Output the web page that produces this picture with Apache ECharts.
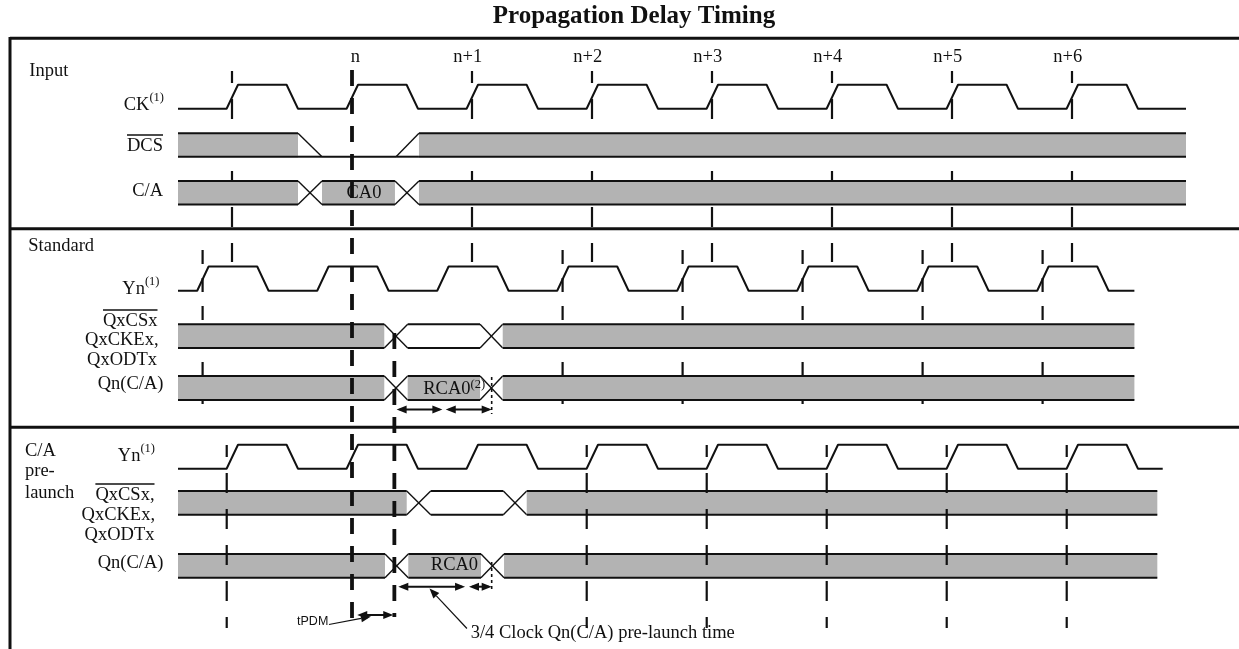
<!DOCTYPE html>
<html><head><meta charset="utf-8">
<script src="https://cdn.jsdelivr.net/npm/echarts@6/dist/echarts.min.js"></script>
<style>html,body{margin:0;padding:0;background:#fff}#chart{width:1239px;height:649px}</style>
</head><body><div id="chart"></div>
<script>
// ===== DATA (time in clock periods, 0 = rising edge "n") =====
const clockLabels = ['n', 'n+1', 'n+2', 'n+3', 'n+4', 'n+5', 'n+6'];
const clockLabelAt = [0.028, 0.964, 1.964, 2.964, 3.964, 4.964, 5.964];
const ckRise = [-1, 0, 1, 2, 3, 4, 5, 6];
const ckSpan = [-1.45, 6.95];
const ynStdRise = [-1.245, -0.245, 0.755, 1.755, 2.755, 3.755, 4.755, 5.755];
const ynStdSpan = [-1.45, 6.52];
const ynPreRise = [-1, 0, 1, 2, 3, 4, 5, 6];
const ynPreSpan = [-1.45, 6.756];
const clockShape = [-0.045, 0.05, 0.455, 0.55]; // rise start, rise end, fall start, fall end (rel. to edge)
const dcsSegs   = [[-1.45, -0.45, 'valid'], [-0.25, 0.367, 'low'], [0.558, 6.95, 'valid']];
const caSegs    = [[-1.45, -0.45, 'valid'], [-0.25, 0.358, 'valid'], [0.558, 6.95, 'valid']];
const stdCsSegs = [[-1.45, 0.269, 'valid'], [0.464, 1.067, 'open'], [1.256, 6.52, 'valid']];
const stdQnSegs = [[-1.45, 0.269, 'valid'], [0.464, 1.067, 'valid'], [1.256, 6.52, 'valid']];
const preCsSegs = [[-1.45, 0.456, 'valid'], [0.656, 1.261, 'open'], [1.456, 6.711, 'valid']];
const preQnSegs = [[-1.45, 0.275, 'valid'], [0.469, 1.075, 'valid'], [1.267, 6.711, 'valid']];
const busLabels = ['CA0', 'RCA0', 'RCA0'];
const busLabelAt = [0.1, 0.594, 0.854];
const stdArrows = [[0.372, 0.753], [0.781, 1.164]];
const preArrows = [[0.386, 0.942], [0.975, 1.164]];
const tpdmArrow = [0.044, 0.344];
const inputGuides = [-1, 1, 2, 3, 4, 5, 6];
const stdGuides = [-1.245, 1.755, 2.755, 3.755, 4.755, 5.755];
const preGuides = [-1.044, 1.956, 2.956, 3.956, 4.956, 5.956];
const referenceEdges = [0, 0.353];
const markerAt = 1.164;

// ===== LAYOUT (pixels) =====
const L = {
  W: 1239, H: 649, px0: 352, pxPerClk: 120,
  ck: {hi: 84.7, lo: 108.7}, dcs: {top: 133.3, bot: 156.7}, ca: {top: 181, bot: 204.5},
  stdYn: {hi: 266.5, lo: 290.7}, stdCs: {top: 324.3, bot: 348}, stdQn: {top: 376, bot: 400},
  preYn: {hi: 444.7, lo: 468.7}, preCs: {top: 491, bot: 514.7}, preQn: {top: 554, bot: 577.7},
  stdArrowY: 409.5, preArrowY: 586.7, tpdmY: 615,
  inGuide: [71, 262], stdGuide: [250, 418], preGuide: [445, 628],
  refGuide: [[70, 620], [333, 617]],
  stdMarker: [377, 414], preMarker: [562, 592],
  clkLabelY: 57, busLabelY: [192.7, 389, 565],
};
const INK = '#111', GRAY = '#b3b3b3';
const SERIF = '"Liberation Serif","Times New Roman",serif';
const SANS = '"Liberation Sans",Arial,sans-serif';
const F = (s, w) => (w || 'normal') + ' ' + s + 'px ' + SERIF;
const mctx = document.createElement('canvas').getContext('2d');
function tw(text, font) { mctx.font = font; return mctx.measureText(text).width; }

function clockPoints(rises, span, lv) {
  const pts = [[span[0], lv.lo]];
  rises.forEach(e => {
    pts.push([e + clockShape[0], lv.lo], [e + clockShape[1], lv.hi], [e + clockShape[2], lv.hi], [e + clockShape[3], lv.lo]);
  });
  pts.push([span[1], lv.lo]);
  return pts;
}

const busRows = [
  {segs: dcsSegs, lay: L.dcs},
  {segs: caSegs, lay: L.ca, label: 0, align: 'center'},
  {segs: stdCsSegs, lay: L.stdCs},
  {segs: stdQnSegs, lay: L.stdQn, label: 1, align: 'left', sup: '(2)'},
  {segs: preCsSegs, lay: L.preCs},
  {segs: preQnSegs, lay: L.preQn, label: 2, align: 'center'},
];

const ln = (x1, y1, x2, y2, w, extra) => ({type: 'line', shape: {x1, y1, x2, y2},
  style: Object.assign({stroke: INK, lineWidth: w || 2, lineCap: 'butt'}, extra || {})});

function renderBus(params, api) {
  const row = busRows[params.dataIndex];
  const yt = api.coord([0, row.lay.top])[1], yb = api.coord([0, row.lay.bot])[1];
  const X = t => api.coord([t, 0])[0];
  const ch = [];
  row.segs.forEach((s, i) => {
    const x0 = X(s[0]), x1 = X(s[1]);
    if (s[2] === 'valid') ch.push({type: 'rect', shape: {x: x0, y: yt, width: x1 - x0, height: yb - yt}, style: {fill: GRAY}});
    if (s[2] !== 'low') ch.push(ln(x0, yt, x1, yt));
    ch.push(ln(x0, yb, x1, yb));
    const n = row.segs[i + 1];
    if (n) {
      const xa = x1, xb = X(n[0]);
      if (n[2] === 'low') { ch.push(ln(xa, yt, xb, yb, 1.4)); ch.push(ln(xa, yb, xb, yb)); }
      else if (s[2] === 'low') { ch.push(ln(xa, yb, xb, yt, 1.4)); ch.push(ln(xa, yb, xb, yb)); }
      else { ch.push(ln(xa, yt, xb, yb, 1.4)); ch.push(ln(xa, yb, xb, yt, 1.4)); }
    }
  });
  if (row.label !== undefined) {
    const p = api.coord([busLabelAt[row.label], L.busLabelY[row.label]]);
    const font = F(18.5);
    ch.push({type: 'text', style: {text: busLabels[row.label], x: p[0], y: p[1], font, fill: INK,
      textAlign: row.align, textVerticalAlign: 'middle', align: row.align, verticalAlign: 'middle'}});
    if (row.sup) {
      const w = tw(busLabels[row.label], font);
      ch.push({type: 'text', style: {text: row.sup, x: p[0] + w, y: p[1] - 4, font: F(12.5), fill: INK,
        textAlign: 'left', textVerticalAlign: 'middle', align: 'left', verticalAlign: 'middle'}});
    }
  }
  return {type: 'group', children: ch};
}

function renderGuide(dash, width, offset) {
  return function (params, api) {
    const a = api.coord([api.value(0), api.value(1)]), b = api.coord([api.value(0), api.value(2)]);
    return ln(a[0], a[1], b[0], b[1], width, {lineDash: dash, lineDashOffset: offset || 0});
  };
}

function arrowShape(x0, x1, y) {
  const h = 10, w = 4;
  return [
    ln(x0 + 3, y, x1 - 3, y, 2),
    {type: 'polygon', shape: {points: [[x0, y], [x0 + h, y - w], [x0 + h, y + w]]}, style: {fill: INK}},
    {type: 'polygon', shape: {points: [[x1, y], [x1 - h, y - w], [x1 - h, y + w]]}, style: {fill: INK}},
  ];
}
function renderArrow(params, api) {
  const a = api.coord([api.value(0), api.value(2)]), b = api.coord([api.value(1), api.value(2)]);
  return {type: 'group', children: arrowShape(a[0], b[0], a[1])};
}

// leader annotations: [tFrom, yFrom, tTo, yTo]
const leaders = [[-0.192, 624.5, 0.158, 616.5], [0.958, 628.5, 0.646, 588.5]];
function renderLeader(params, api) {
  const a = api.coord([api.value(0), api.value(1)]), b = api.coord([api.value(2), api.value(3)]);
  const dx = b[0] - a[0], dy = b[1] - a[1], len = Math.hypot(dx, dy), ux = dx / len, uy = dy / len;
  const h = 10, w = 4;
  const bx = b[0] - ux * h, by = b[1] - uy * h;
  return {type: 'group', children: [
    ln(a[0], a[1], bx, by, 1.2),
    {type: 'polygon', shape: {points: [[b[0], b[1]], [bx - uy * w, by + ux * w], [bx + uy * w, by - ux * w]]}, style: {fill: INK}},
  ]};
}
const annotations = [
  {text: 'tPDM', t: -0.458, y: 622, font: '12.5px ' + SANS},
  {text: '3/4 Clock Qn(C/A) pre-launch time', t: 0.989, y: 633, font: F(18.5)},
];
function renderAnnot(params, api) {
  const a = annotations[params.dataIndex];
  const p = api.coord([a.t, a.y]);
  return {type: 'text', style: {text: a.text, x: p[0], y: p[1], font: a.font, fill: INK,
    textAlign: 'left', textVerticalAlign: 'middle', align: 'left', verticalAlign: 'middle'}};
}
function renderClockLabel(params, api) {
  const p = api.coord([api.value(0), L.clkLabelY]);
  return {type: 'text', style: {text: clockLabels[params.dataIndex], x: p[0], y: p[1], font: F(18.5), fill: INK,
    textAlign: 'center', textVerticalAlign: 'middle', align: 'center', verticalAlign: 'middle'}};
}

// ===== static labels (graphic) =====
const sideLabels = [
  {t: 'Input', x: 29.3, y: 71, left: true},
  {t: 'CK', sup: '(1)', x: 164, y: 105},
  {t: 'DCS', x: 163, y: 146, over: true},
  {t: 'C/A', x: 163, y: 191},
  {t: 'Standard', x: 28.3, y: 246, left: true},
  {t: 'Yn', sup: '(1)', x: 159.5, y: 289},
  {t: 'QxCSx', x: 157.5, y: 321, over: true},
  {t: 'QxCKEx,', x: 158.5, y: 340.5},
  {t: 'QxODTx', x: 157, y: 360.5},
  {t: 'Qn(C/A)', x: 163.5, y: 384.5},
  {t: 'C/A', x: 25, y: 451, left: true},
  {t: 'pre-', x: 25, y: 471, left: true},
  {t: 'launch', x: 25, y: 493, left: true},
  {t: 'Yn', sup: '(1)', x: 155, y: 456},
  {t: 'QxCSx,', x: 154.5, y: 495, over: true},
  {t: 'QxCKEx,', x: 155, y: 515.5},
  {t: 'QxODTx', x: 154.5, y: 535},
  {t: 'Qn(C/A)', x: 163.5, y: 563},
];
const graphics = [];
const txt = (text, x, y, font, align) => ({type: 'text', x: 0, y: 0, silent: true,
  style: {text, x, y, font, fill: INK, textAlign: align, textVerticalAlign: 'middle', align, verticalAlign: 'middle'}});
sideLabels.forEach(l => {
  const font = F(18.5);
  if (l.left) { graphics.push(txt(l.t, l.x, l.y, font, 'left')); return; }
  let right = l.x;
  if (l.sup) {
    const sw = tw(l.sup, F(12.5));
    graphics.push(txt(l.sup, right - sw, l.y - 7, F(12.5), 'left'));
    right -= sw;
  }
  graphics.push(txt(l.t, right, l.y, font, 'right'));
  if (l.over) {
    const w = tw(l.t, font);
    graphics.push({type: 'line', silent: true, shape: {x1: right - w, y1: l.y - 11, x2: right, y2: l.y - 11}, style: {stroke: INK, lineWidth: 1.3}});
  }
});
graphics.push(txt('Propagation Delay Timing', 634, 17, F(25, 'bold'), 'center'));
// frame
[[10, 38.3, 1239, 38.3], [10, 228.7, 1239, 228.7], [10, 427.3, 1239, 427.3], [10, 37, 10, 649]].forEach(s =>
  graphics.push({type: 'line', silent: true, shape: {x1: s[0], y1: s[1], x2: s[2], y2: s[3]}, style: {stroke: INK, lineWidth: 3}}));

const chart = echarts.init(document.getElementById('chart'), null, {renderer: 'canvas'});
const waveStyle = {color: INK, width: 2};
const wave = (data) => ({type: 'line', data, symbol: 'none', lineStyle: waveStyle, z: 3, animation: false, silent: true, clip: false});
const custom = (renderItem, data, z) => ({type: 'custom', renderItem, data, z, animation: false, silent: true, clip: false});

chart.setOption({
  animation: false,
  grid: {left: 0, right: 0, top: 0, bottom: 0, containLabel: false},
  xAxis: {type: 'value', min: -L.px0 / L.pxPerClk, max: (L.W - L.px0) / L.pxPerClk, show: false},
  yAxis: {type: 'value', min: 0, max: L.H, inverse: true, show: false},
  graphic: graphics,
  series: [
    custom(renderGuide([20, 16], 2.2, 8), inputGuides.map(t => [t, L.inGuide[0], L.inGuide[1]]), 1),
    custom(renderGuide([14, 14], 2.2, 0), stdGuides.map(t => [t, L.stdGuide[0], L.stdGuide[1]]), 1),
    custom(renderBus, busRows.map((r, i) => [i]), 2),
    wave(clockPoints(ckRise, ckSpan, L.ck)),
    wave(clockPoints(ynStdRise, ynStdSpan, L.stdYn)),
    wave(clockPoints(ynPreRise, ynPreSpan, L.preYn)),
    custom(renderGuide([20, 16], 2.2, 8), preGuides.map(t => [t, L.preGuide[0], L.preGuide[1]]), 4),
    custom(renderGuide([16, 12], 3.8, 0), referenceEdges.map((t, i) => [t, L.refGuide[i][0], L.refGuide[i][1]]), 5),
    custom(renderGuide([3, 3], 1.6, 0), [[markerAt, L.stdMarker[0], L.stdMarker[1]], [markerAt, L.preMarker[0], L.preMarker[1]]], 5),
    custom(renderArrow, stdArrows.map(a => [a[0], a[1], L.stdArrowY]).concat(preArrows.map(a => [a[0], a[1], L.preArrowY]), [[tpdmArrow[0], tpdmArrow[1], L.tpdmY]]), 6),
    custom(renderLeader, leaders, 6),
    custom(renderAnnot, annotations.map((a, i) => [i]), 6),
    custom(renderClockLabel, clockLabelAt.map(t => [t]), 6),
  ],
});
</script>
</body></html>
